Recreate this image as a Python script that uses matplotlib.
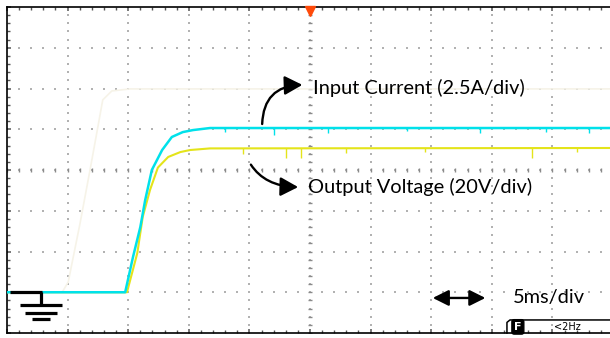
import numpy as np
import matplotlib.pyplot as plt
from matplotlib.patches import FancyArrowPatch

# Traces in screen divisions (10 x 8 grid, y counted from bottom)
cyan_x = [0, 1.95, 2.08, 2.20, 2.28, 2.39, 2.56, 2.72, 2.90, 3.07, 3.35, 10]
cyan_y = [1.0, 1.0, 1.87, 2.60, 3.26, 4.0, 4.49, 4.81, 4.93, 4.98, 5.03, 5.03]

yellow_x = [0, 1.98, 2.15, 2.24, 2.36, 2.49, 2.66, 2.86, 3.02, 3.35, 10]
yellow_y = [1.0, 1.0, 1.96, 2.85, 3.51, 4.06, 4.32, 4.44, 4.49, 4.53, 4.54]

# faint persistence trace from an earlier capture
ghost_x = [0, 0.91, 1.01, 1.20, 1.37, 1.49, 1.58, 1.73, 2.03, 10]
ghost_y = [1.0, 1.0, 1.25, 2.65, 4.0, 4.98, 5.72, 5.94, 5.99, 5.99]

# noise spikes on the flat parts
cyan_spike_x = [3.6, 4.4, 5.3, 6.6, 7.8, 8.9, 9.6]
cyan_spike_y = [4.93, 4.86, 4.92, 4.95, 4.90, 4.94, 4.92]
yellow_spike_x = [3.9, 4.6, 4.85, 5.6, 6.9, 8.66, 9.4]
yellow_spike_y = [4.40, 4.30, 4.29, 4.42, 4.45, 4.29, 4.43]

cyan = "#00e1ea"
yellow = "#e4e41a"

fig = plt.figure(figsize=(6.1, 3.38), dpi=100)
ax = fig.add_axes([7 / 610, 5 / 338, 606 / 610, 326 / 338])
ax.set_xlim(0, 10)
ax.set_ylim(0, 8)

# dotted graticule
gx, gy = np.meshgrid(np.arange(1, 10), np.arange(0, 8.01, 0.2))
ax.scatter(gx.ravel(), gy.ravel(), s=1.4, marker="s", color="#b2b2b2", linewidths=0, zorder=1)
hx, hy = np.meshgrid(np.arange(0, 10.01, 0.2), np.arange(1, 8))
ax.scatter(hx.ravel(), hy.ravel(), s=1.4, marker="s", color="#b2b2b2", linewidths=0, zorder=1)
# centre cross ticks
cy = np.arange(0, 8.01, 0.2)
ax.plot(np.full_like(cy, 5), cy, ls="none", marker="_", ms=3.2, mew=1.0, color="#8a8a8a", zorder=1)
cx = np.arange(0, 10.01, 0.2)
ax.plot(cx, np.full_like(cx, 4), ls="none", marker="|", ms=3.2, mew=1.0, color="#8a8a8a", zorder=1)

ax.plot(ghost_x, ghost_y, color="#f6f3e8", lw=1.2, zorder=2)
ax.plot(yellow_x, yellow_y, color=yellow, lw=1.5, zorder=3)
ax.vlines(yellow_spike_x, yellow_spike_y, 4.54, color=yellow, lw=1.0, zorder=3)
ax.plot(cyan_x, cyan_y, color=cyan, lw=1.8, zorder=4)
ax.vlines(cyan_spike_x, cyan_spike_y, 5.03, color=cyan, lw=1.0, zorder=4)

# frame
for s in ["left", "top", "bottom"]:
    ax.spines[s].set_linewidth(1.2)
ax.spines["right"].set_visible(False)
ax.set_xticks(np.arange(0, 11, 1))
ax.set_xticks(np.arange(0, 10.01, 0.2), minor=True)
ax.set_yticks(np.arange(0, 9, 1))
ax.set_yticks(np.arange(0, 8.01, 0.2), minor=True)
ax.tick_params(which="both", direction="in", top=True, bottom=True, left=True, right=False,
               labelbottom=False, labelleft=False, color="#555555")
ax.tick_params(which="major", length=3, width=1.1)
ax.tick_params(which="minor", length=2, width=1.0)

# trigger marker
ax.plot([5], [7.91], marker="v", ms=7, color="#ff4a0a", clip_on=False, zorder=6)

# ground symbol
gk = dict(color="black", lw=2.3, solid_capstyle="butt", zorder=6)
ax.plot([0.05, 0.58], [1.006, 1.006], **gk)
ax.plot([0.56, 0.56], [1.006, 0.687], **gk)
ax.plot([0.21, 0.91], [0.687, 0.687], **gk)
ax.plot([0.30, 0.83], [0.49, 0.49], **gk)
ax.plot([0.41, 0.71], [0.34, 0.34], **gk)

# annotations
astyle = "-|>,head_length=0.6,head_width=0.32"
ax.add_patch(FancyArrowPatch((4.21, 5.06), (4.92, 6.09), arrowstyle=astyle, mutation_scale=18,
                             connectionstyle="angle3,angleA=90,angleB=0", color="black", lw=1.7, zorder=7))
ax.add_patch(FancyArrowPatch((4.0, 4.19), (4.85, 3.58), arrowstyle=astyle, mutation_scale=18,
                             connectionstyle="angle3,angleA=-60,angleB=0", color="black", lw=1.7, zorder=7))
ax.add_patch(FancyArrowPatch((6.98, 0.86), (7.94, 0.86), arrowstyle="<|-|>,head_length=0.6,head_width=0.3",
                             mutation_scale=16, color="black", lw=1.7, zorder=7))

tfont = dict(family=["Lato", "DejaVu Sans"], fontsize=14.4, color="black", va="center", ha="left")
ax.text(5.05, 6.02, "Input Current (2.5A/div)", **tfont)
ax.text(4.97, 3.58, "Output Voltage (20V/div)", **tfont)
ax.text(8.35, 0.87, "5ms/div", **tfont)

# status box bottom right
ax.plot([8.25, 8.25, 8.3, 10], [0, 0.26, 0.32, 0.32], color="black", lw=1.1, zorder=6, clip_on=False)
ax.text(8.43, 0.15, "F", color="white", fontsize=8, fontweight="bold", ha="center", va="center",
        bbox=dict(boxstyle="round,pad=0.2", fc="black", ec="black"), zorder=7)
ax.text(9.25, 0.15, "<2Hz", color="black", fontsize=7, ha="center", va="center", zorder=7)

plt.savefig("out.png", dpi=100)
